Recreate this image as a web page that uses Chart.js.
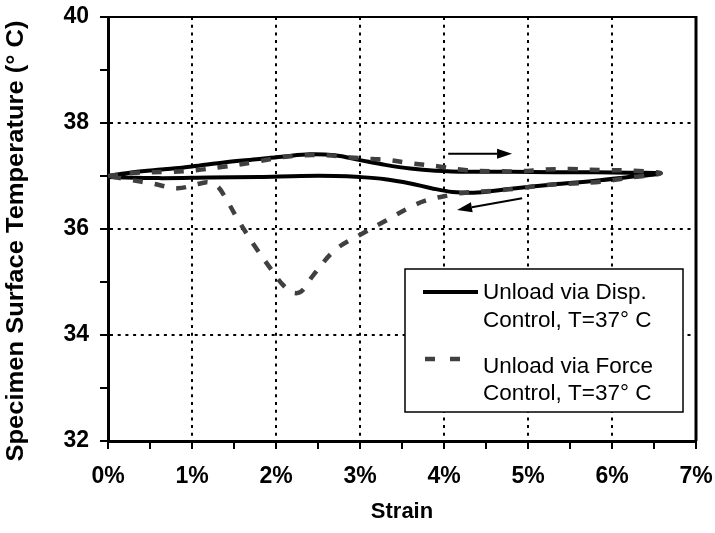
<!DOCTYPE html>
<html>
<head>
<meta charset="utf-8">
<script src="https://cdn.jsdelivr.net/npm/chart.js@4"></script>
<style>
  body { margin: 0; background: #fff; }
</style>
</head>
<body>
<canvas id="tempChart" width="715" height="533"></canvas>
<script>
// Displacement-controlled unloading: load out to 6.58 % then come back
const dispStrain = [0, 0.3, 0.7, 1.0, 1.4, 1.8, 2.1, 2.4, 2.7, 3.0, 3.3, 3.6, 3.9, 4.3, 4.8, 5.3, 5.8, 6.2, 6.58,
                    6.2, 5.8, 5.3, 4.8, 4.4, 4.1, 3.85, 3.6, 3.3, 3.0, 2.7, 2.3, 1.8, 1.2, 0.6, 0];
const dispTemp = [37.0, 37.07, 37.13, 37.18, 37.26, 37.32, 37.37, 37.41, 37.39, 37.30, 37.21, 37.14, 37.10, 37.08, 37.08, 37.07, 37.07, 37.06, 37.05,
                  36.98, 36.91, 36.84, 36.76, 36.69, 36.70, 36.77, 36.86, 36.94, 36.98, 37.0, 37.0, 36.98, 36.97, 36.96, 36.98];

// Force-controlled unloading
const forceStrain = [0, 0.3, 0.75, 1.05, 1.4, 1.77, 2.05, 2.3, 2.6, 2.88, 3.15, 3.35, 3.6, 3.94, 4.27, 4.6, 4.9, 5.2, 5.5, 5.9, 6.25, 6.58,
                     6.21, 5.86, 5.54, 5.22, 4.9, 4.59, 4.27, 4.07, 3.77, 3.56, 3.3, 3.0, 2.7, 2.44, 2.3, 2.2, 2.08, 1.96, 1.75, 1.55, 1.39, 1.3, 1.19, 1.1, 0.83, 0.52, 0.25, 0];
const forceTemp = [37.0, 37.06, 37.08, 37.11, 37.18, 37.27, 37.35, 37.39, 37.39, 37.35, 37.32, 37.30, 37.24, 37.18, 37.11, 37.09, 37.09, 37.12, 37.13, 37.11, 37.10, 37.05,
                   36.97, 36.89, 36.86, 36.83, 36.77, 36.72, 36.69, 36.64, 36.53, 36.38, 36.15, 35.89, 35.60, 35.12, 34.82, 34.80, 34.95, 35.20, 35.67, 36.17, 36.61, 36.81, 36.88, 36.86, 36.77, 36.86, 36.93, 37.0];

const strainLabelled = [0, 1, 2, 3, 4, 5, 6, 7];
const tempLabelled = [32, 34, 36, 38, 40];

const yTitle = 'Specimen Surface Temperature (\u00B0 C)';
const legendLines = [
  ['Unload via Disp.', 'Control, T=37\u00B0 C'],
  ['Unload via Force', 'Control, T=37\u00B0 C']
];

// direction arrows, [start, end] in strain / temperature units
const arrows = [
  [[4.05, 37.42], [4.81, 37.42]],
  [[4.93, 36.58], [4.155, 36.36]]
];

Chart.defaults.font.family = '"Liberation Sans", Arial, sans-serif';
Chart.defaults.color = '#000';

const toPoints = (xs, ys) => xs.map((x, i) => ({ x: x, y: ys[i] }));

// keep the plot box where the layout padding puts it
const noLabelPadding = (scale) => {
  scale.paddingLeft = 0;
  scale.paddingRight = 0;
  scale.paddingTop = 0;
  scale.paddingBottom = 0;
};

// top and right edges of the plot box
const frame = {
  id: 'frame',
  beforeDatasetsDraw(chart) {
    const { ctx, chartArea: a } = chart;
    ctx.save();
    ctx.strokeStyle = '#000';
    ctx.lineWidth = 2;
    ctx.beginPath();
    ctx.moveTo(a.left, a.top);
    ctx.lineTo(a.right, a.top);
    ctx.stroke();
    ctx.lineWidth = 3;
    ctx.beginPath();
    ctx.moveTo(a.right, a.top - 1);
    ctx.lineTo(a.right, a.bottom);
    ctx.stroke();
    ctx.restore();
  }
};

// vertical axis title, a little wide and sitting slightly low
const sideTitle = {
  id: 'sideTitle',
  afterDraw(chart) {
    const ctx = chart.ctx;
    ctx.save();
    ctx.translate(23, 241);
    ctx.rotate(-Math.PI / 2);
    ctx.scale(1.11, 1);
    ctx.font = 'bold 23px "Liberation Sans", Arial, sans-serif';
    ctx.fillStyle = '#000';
    ctx.textAlign = 'center';
    ctx.textBaseline = 'alphabetic';
    ctx.fillText(yTitle, 0, 0);
    ctx.restore();
  }
};

const arrowMarks = {
  id: 'arrowMarks',
  afterDatasetsDraw(chart) {
    const { ctx, scales: { x, y } } = chart;
    ctx.save();
    ctx.strokeStyle = '#000';
    ctx.fillStyle = '#000';
    ctx.lineWidth = 2;
    arrows.forEach(([from, to]) => {
      const x1 = x.getPixelForValue(from[0]), y1 = y.getPixelForValue(from[1]);
      const x2 = x.getPixelForValue(to[0]), y2 = y.getPixelForValue(to[1]);
      const ang = Math.atan2(y2 - y1, x2 - x1);
      const head = 15, half = 5;
      const bx = x2 - head * Math.cos(ang), by = y2 - head * Math.sin(ang);
      ctx.beginPath();
      ctx.moveTo(x1, y1);
      ctx.lineTo(bx, by);
      ctx.stroke();
      ctx.beginPath();
      ctx.moveTo(x2, y2);
      ctx.lineTo(bx + half * Math.sin(ang), by - half * Math.cos(ang));
      ctx.lineTo(bx - half * Math.sin(ang), by + half * Math.cos(ang));
      ctx.closePath();
      ctx.fill();
    });
    ctx.restore();
  }
};

// boxed legend with two-line entries
const boxLegend = {
  id: 'boxLegend',
  afterDraw(chart) {
    const ctx = chart.ctx;
    ctx.save();
    ctx.fillStyle = '#fff';
    ctx.fillRect(405, 269, 278, 143);
    ctx.strokeStyle = '#000';
    ctx.lineWidth = 1.5;
    ctx.strokeRect(405, 269, 278, 143);

    ctx.lineWidth = 4;
    ctx.beginPath();
    ctx.moveTo(423, 292);
    ctx.lineTo(478, 292);
    ctx.stroke();

    ctx.strokeStyle = '#404040';
    ctx.lineWidth = 4.5;
    ctx.setLineDash([10, 15]);
    ctx.beginPath();
    ctx.moveTo(425, 359);
    ctx.lineTo(462, 359);
    ctx.stroke();
    ctx.setLineDash([]);

    ctx.fillStyle = '#000';
    ctx.font = '22.5px "Liberation Sans", Arial, sans-serif';
    ctx.textBaseline = 'alphabetic';
    ctx.fillText(legendLines[0][0], 483, 299);
    ctx.fillText(legendLines[0][1], 483, 327);
    ctx.fillText(legendLines[1][0], 483, 373);
    ctx.fillText(legendLines[1][1], 483, 400);
    ctx.restore();
  }
};

new Chart(document.getElementById('tempChart').getContext('2d'), {
  type: 'scatter',
  data: {
    datasets: [
      {
        label: legendLines[0].join(' '),
        data: toPoints(dispStrain, dispTemp),
        showLine: true,
        borderColor: '#000',
        borderWidth: 4,
        pointRadius: 0,
        tension: 0.35,
        order: 2
      },
      {
        label: legendLines[1].join(' '),
        data: toPoints(forceStrain, forceTemp),
        showLine: true,
        borderColor: '#404040',
        borderWidth: 4.5,
        borderDash: [10, 12],
        pointRadius: 0,
        tension: 0.35,
        order: 1
      }
    ]
  },
  options: {
    responsive: false,
    animation: false,
    layout: { padding: { top: 17, right: 19, left: 0, bottom: 0 } },
    plugins: {
      legend: { display: false },
      tooltip: { enabled: false }
    },
    scales: {
      x: {
        type: 'linear',
        min: 0,
        max: 7,
        afterFit: (scale) => { scale.height = 92; noLabelPadding(scale); },
        ticks: {
          stepSize: 0.5,
          autoSkip: false,
          maxRotation: 0,
          padding: 14,
          font: { size: 23, weight: 'bold' },
          callback: (v) => strainLabelled.includes(v) ? v + '%' : ''
        },
        grid: {
          color: (c) => strainLabelled.includes(c.tick.value) && c.tick.value > 0 && c.tick.value < 7 ? '#000' : 'rgba(0,0,0,0)',
          lineWidth: 2,
          tickColor: '#000',
          tickLength: 8,
          tickWidth: 2
        },
        border: { display: true, color: '#000', width: 3, dash: [3, 4.7] },
        title: {
          display: true,
          text: 'Strain',
          font: { size: 22, weight: 'bold' },
          padding: { top: 0, bottom: 8 }
        }
      },
      y: {
        min: 32,
        max: 40,
        afterFit: (scale) => { scale.width = 108; noLabelPadding(scale); },
        ticks: {
          stepSize: 1,
          padding: 11,
          font: { size: 23, weight: 'bold' },
          callback: (v) => tempLabelled.includes(v) ? v : ''
        },
        grid: {
          color: (c) => tempLabelled.includes(c.tick.value) && c.tick.value > 32 && c.tick.value < 40 ? '#000' : 'rgba(0,0,0,0)',
          lineWidth: 2,
          tickColor: '#000',
          tickLength: 8,
          tickWidth: 2
        },
        border: { display: true, color: '#000', width: 3, dash: [3, 4.7] }
      }
    }
  },
  plugins: [frame, arrowMarks, boxLegend, sideTitle]
});
</script>
</body>
</html>
